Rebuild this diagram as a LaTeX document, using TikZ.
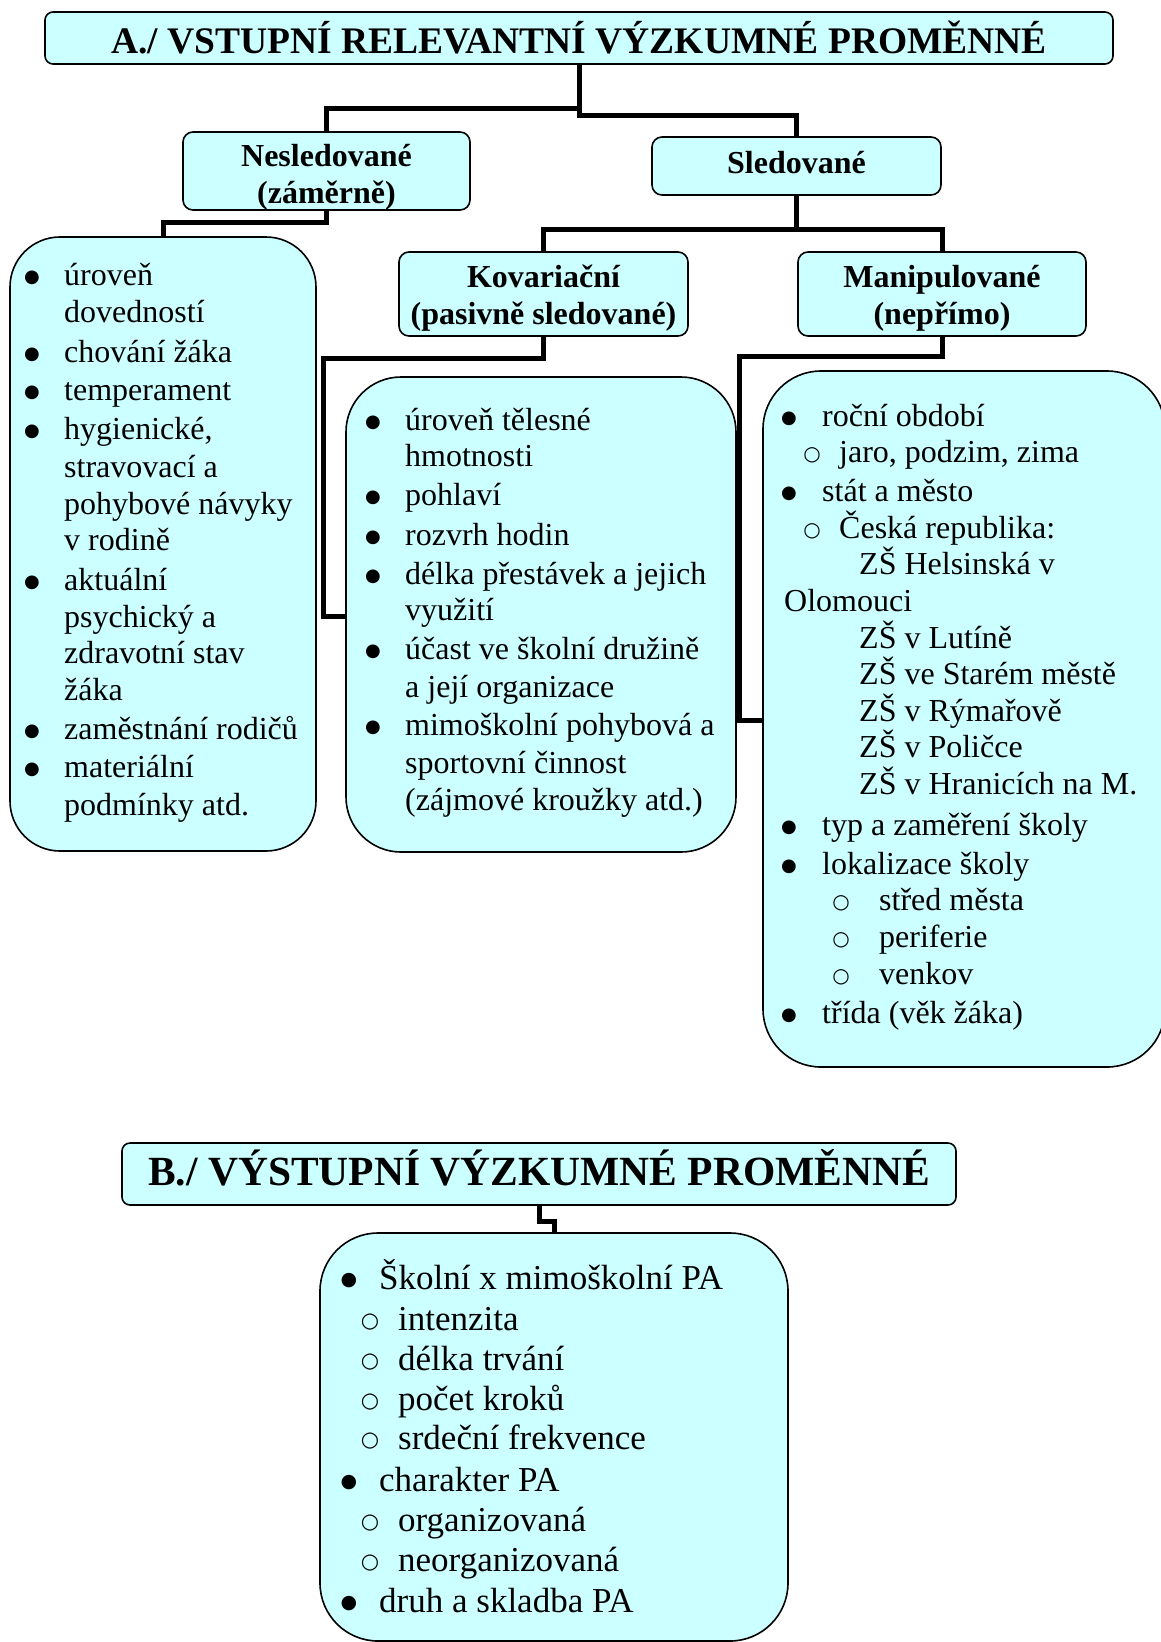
\documentclass[tikz,border=0pt]{standalone}
\usepackage{fontspec}
\setmainfont{Liberation Serif}
\newfontfamily\symfont{DejaVu Sans}
\usetikzlibrary{backgrounds}
\definecolor{boxfill}{HTML}{CCFFFF}
\tikzset{
  rbox/.style={draw=black, line width=1.6pt, fill=boxfill, rounded corners=#1, inner sep=0pt},
  conn/.style={draw=black, line width=5pt, line join=miter},
  ln/.style={anchor=west, inner sep=0pt, text height=22pt, text depth=7pt, font=\fontsize{32}{37}\selectfont},
  lnb/.style={anchor=west, inner sep=0pt, text height=24pt, text depth=8pt, font=\fontsize{35}{40}\selectfont},
  bul/.style={inner sep=0pt, font=\symfont\fontsize{18}{18}\selectfont},
  circ/.style={inner sep=0pt, font=\symfont\fontsize{20}{20}\selectfont},
  hdr/.style={inner sep=0pt, align=center, font=\fontsize{32}{37}\selectfont\bfseries},
}
\begin{document}
\begin{tikzpicture}[x=1pt,y=-1pt]
\useasboundingbox (0,0) rectangle (1160,1642);

% ---- boxes ----
\node[rbox=8, minimum width=1068, minimum height=52] (A) at (579,38) {};
\node[rbox=10, minimum width=287, minimum height=78] (nes) at (326.5,171) {};
\node[rbox=10, minimum width=289, minimum height=58] (sled) at (796.5,166) {};
\node[rbox=10, minimum width=289, minimum height=84] (kov) at (543.5,294) {};
\node[rbox=10, minimum width=288, minimum height=84] (man) at (942,294) {};
\node[rbox=50, minimum width=306, minimum height=614] (left) at (163,544) {};
\node[rbox=55, minimum width=390, minimum height=475] (mid) at (541,614.5) {};
\node[rbox=58, minimum width=402, minimum height=696] (right) at (964,719) {};
\node[rbox=8, minimum width=834, minimum height=62] (B) at (539,1174) {};
\node[rbox=58, minimum width=468, minimum height=408] (bot) at (554,1437) {};

% ---- box titles ----
\node[hdr, font=\fontsize{37.5}{40}\selectfont\bfseries] (Atxt) at ([yshift=0pt]A.center) {A./ VSTUPNÍ RELEVANTNÍ VÝZKUMNÉ PROMĚNNÉ};
\node[hdr] (nestxt) at ([yshift=-6pt]nes.center) {Nesledované\\(záměrně)};
\node[hdr] (sledtxt) at ([yshift=3pt]sled.center) {Sledované};
\node[hdr] (kovtxt) at ([yshift=-4pt]kov.center) {Kovariační\\(pasivně sledované)};
\node[hdr] (mantxt) at ([yshift=-4pt]man.center) {Manipulované\\(nepřímo)};
\node[hdr, font=\fontsize{41.5}{44}\selectfont\bfseries] (Btxt) at ([yshift=6pt]B.center) {B./ VÝSTUPNÍ VÝZKUMNÉ PROMĚNNÉ};

% ---- connectors ----
\begin{pgfonlayer}{background}
\fill[white] (0,0) rectangle (1160,1642);
\draw[conn] (A.south) |- (nes.north |- 0,108) -- (nes.north);
\draw[conn] (A.south) |- (sled.north |- 0,115) -- (sled.north);
\draw[conn] (nes.south) |- (left.north |- 0,222) -- (left.north);
\draw[conn] (sled.south) |- (kov.north |- 0,229) -- (kov.north);
\draw[conn] (sled.south) |- (man.north |- 0,229) -- (man.north);
\draw[conn] (kov.south) |- (323,358) |- (mid.west |- 0,616);
\draw[conn] (man.south) |- (739,356) |- (right.west |- 0,720);
\draw[conn] (B.south) |- (bot.north |- 0,1221) -- (bot.north);
\end{pgfonlayer}

% ---- left box text ----
\foreach \y [count=\i] in {278,355,393,432,583,732,770}
  \node[bul] (lb\i) at (32,\y) {●};
\foreach \y/\t [count=\i] in {278/úroveň, 315/dovedností, 355/chování žáka, 393/temperament, 432/{hygienické,}, 470/stravovací a, 507/pohybové návyky, 543/v rodině, 583/aktuální, 620/psychický a, 656/zdravotní stav, 693/žáka, 732/zaměstnání rodičů, 770/materiální, 808/podmínky atd.}
  \node[ln] (lt\i) at (64,\y) {\t};

% ---- middle box text ----
\foreach \y [count=\i] in {423,498,538,577,652,728}
  \node[bul] (mb\i) at (373,\y) {●};
\foreach \y/\t [count=\i] in {423/úroveň tělesné, 459/hmotnosti, 498/pohlaví, 538/rozvrh hodin, 577/délka přestávek a jejich, 613/využití, 652/účast ve školní družině, 690/a její organizace, 728/mimoškolní pohybová a, 766/sportovní činnost, 803/(zájmové kroužky atd.)}
  \node[ln] (mt\i) at (405,\y) {\t};

% ---- right box text ----
\foreach \y [count=\i] in {419,494,828,867,1016}
  \node[bul] (rb\i) at (789,\y) {●};
\foreach \x/\y [count=\i] in {812/455, 812/531, 841/903, 841/940, 841/977}
  \node[circ] (rc\i) at (\x,\y) {○};
\foreach \x/\y/\t [count=\i] in {822/419/roční období, 839/455/{jaro, podzim, zima}, 822/494/stát a město, 839/531/Česká republika:, 859/567/ZŠ Helsinská v, 784/604/Olomouci, 859/641/ZŠ v Lutíně, 859/677/ZŠ ve Starém městě, 859/714/ZŠ v Rýmařově, 859/750/ZŠ v Poličce, 859/787/ZŠ v Hranicích na M., 822/828/typ a zaměření školy, 822/867/lokalizace školy, 879/903/střed města, 879/940/periferie, 879/977/venkov, 822/1016/třída (věk žáka)}
  \node[ln] (rt\i) at (\x,\y) {\t};

% ---- bottom box text ----
\foreach \y [count=\i] in {1281,1483,1604}
  \node[bul, font=\symfont\fontsize{19}{19}\selectfont] (bb\i) at (349,\y) {●};
\foreach \y [count=\i] in {1322,1362,1402,1441,1523,1563}
  \node[circ, font=\symfont\fontsize{21}{21}\selectfont] (bc\i) at (370,\y) {○};
\foreach \x/\y/\t [count=\i] in {379/1281/Školní x mimoškolní PA, 398/1322/intenzita, 398/1362/délka trvání, 398/1402/počet kroků, 398/1441/srdeční frekvence, 379/1483/charakter PA, 398/1523/organizovaná, 398/1563/neorganizovaná, 379/1604/druh a skladba PA}
  \node[lnb] (bt\i) at (\x,\y) {\t};
\end{tikzpicture}
\end{document}
